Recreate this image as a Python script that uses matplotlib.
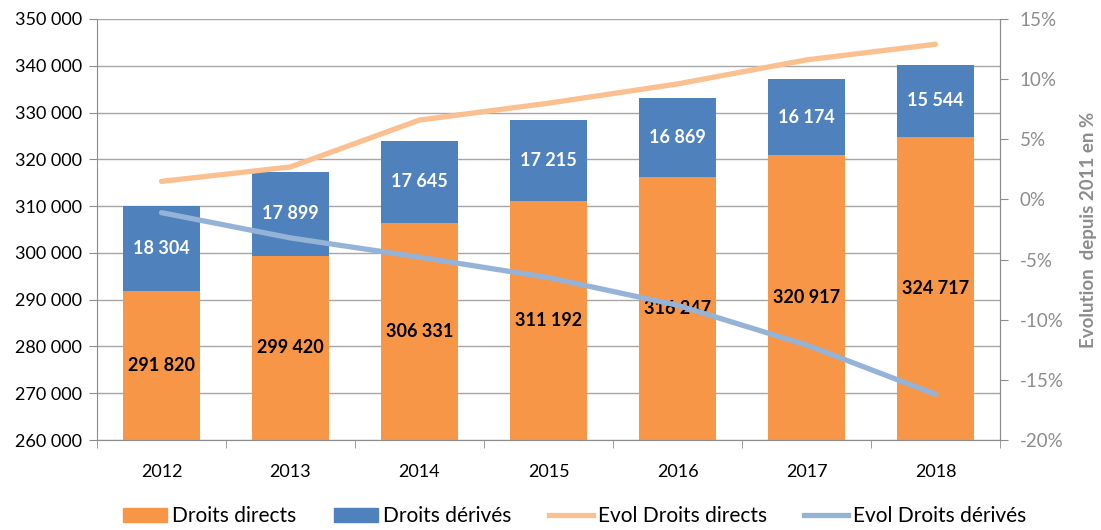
import numpy as np
import matplotlib.pyplot as plt
from matplotlib.ticker import FuncFormatter, FixedLocator
from matplotlib.patches import Patch
from matplotlib.lines import Line2D

plt.rcParams['font.family'] = ['Lato', 'DejaVu Sans']

years = ["2012", "2013", "2014", "2015", "2016", "2017", "2018"]
droits_directs = [291820, 299420, 306331, 311192, 316247, 320917, 324717]
droits_derives = [18304, 17899, 17645, 17215, 16869, 16174, 15544]
evol_directs = [1.5, 2.7, 6.6, 8.0, 9.6, 11.6, 12.9]
evol_derives = [-1.1, -3.2, -4.8, -6.5, -8.8, -12.1, -16.2]

c_dir = "#F79646"
c_der = "#4F81BD"
c_evol_dir = "#FAC090"
c_evol_der = "#95B3D7"
grey = "#8C8C8C"

fig = plt.figure(figsize=(11.01, 5.30), dpi=100)
ax = fig.add_axes([0.0881, 0.1698, 0.8202, 0.7944])
x = np.arange(len(years))
ymin, ymax = 260000, 350000

ax.bar(x, droits_directs, width=0.6, color=c_dir, zorder=2)
ax.bar(x, droits_derives, width=0.6, bottom=droits_directs, color=c_der, zorder=2)

for i in range(len(years)):
    ax.text(x[i], (ymin + droits_directs[i]) / 2, f"{droits_directs[i]:,}".replace(",", " "),
            ha="center", va="center", fontsize=13, fontweight="bold", color="black", zorder=2.5)
    ax.text(x[i], droits_directs[i] + droits_derives[i] / 2, f"{droits_derives[i]:,}".replace(",", " "),
            ha="center", va="center", fontsize=13, fontweight="bold", color="white", zorder=2.5)

ax.set_xlim(-0.5, len(years) - 0.5)
ax.set_ylim(ymin, ymax)
ax.set_yticks(np.arange(ymin, ymax + 1, 10000))
ax.yaxis.set_major_formatter(FuncFormatter(lambda v, p: f"{int(v):,}".replace(",", " ")))
ax.yaxis.grid(True, color="#A6A6A6", linewidth=1.0, zorder=0)
ax.set_axisbelow(True)

ax.set_xticks(x)
ax.set_xticklabels(years, fontsize=13)
ax.tick_params(axis="x", which="major", length=0, pad=17)
ax.xaxis.set_minor_locator(FixedLocator(np.arange(-0.5, len(years), 1.0)))
ax.tick_params(axis="x", which="minor", length=6, color=grey, direction="out")
ax.tick_params(axis="y", labelsize=13, length=6, color=grey, direction="out", pad=5)

ax.spines["top"].set_visible(False)
for s in ["left", "bottom", "right"]:
    ax.spines[s].set_color(grey)

ax2 = ax.twinx()
ax2.plot(x, evol_directs, color=c_evol_dir, linewidth=3.8, solid_capstyle="round", zorder=3)
ax2.plot(x, evol_derives, color=c_evol_der, linewidth=3.8, solid_capstyle="round", zorder=3)
ax2.set_ylim(-20, 15)
ax2.set_yticks(np.arange(-20, 16, 5))
ax2.yaxis.set_major_formatter(FuncFormatter(lambda v, p: f"{int(v)}%"))
ax2.tick_params(axis="y", labelsize=13.5, labelcolor=grey, length=6, color=grey, direction="out", pad=8)
ax2.set_ylabel("Evolution  depuis 2011 en %", fontsize=13.5, fontweight="bold", color=grey, labelpad=12)
for s in ["top", "left", "bottom"]:
    ax2.spines[s].set_visible(False)
ax2.spines["right"].set_color(grey)

handles = [
    Patch(color=c_dir, label="Droits directs"),
    Patch(color=c_der, label="Droits dérivés"),
    Line2D([0], [0], color=c_evol_dir, linewidth=3.8, label="Evol Droits directs"),
    Line2D([0], [0], color=c_evol_der, linewidth=3.8, label="Evol Droits dérivés"),
]
fig.legend(handles=handles, loc="lower left", bbox_to_anchor=(0.095, -0.028), ncol=4,
           frameon=False, fontsize=15, columnspacing=1.8, handlelength=2.1, handletextpad=0.25)

fig.savefig("out.png", dpi=100)
